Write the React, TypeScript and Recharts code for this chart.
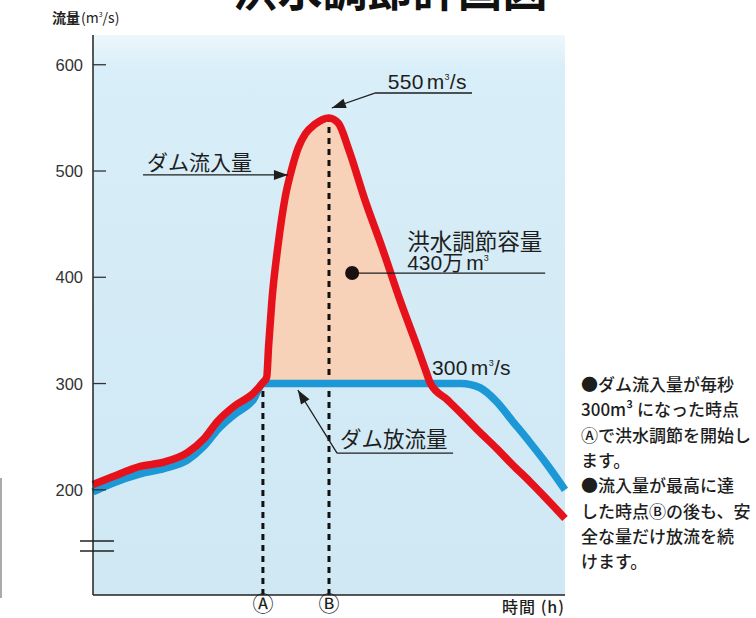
import React from 'react';
import {
  ComposedChart,
  Line,
  Area,
  XAxis,
  YAxis,
  CartesianGrid,
  ReferenceLine,
  ReferenceDot,
} from 'recharts';

// time axis (arbitrary hours) and the two hydrographs, m³/s
const hours = [
  0, 4, 10, 15, 20, 23.5, 26.5, 30, 34, 36,
  36.8, 37.2, 37.9, 39.2, 40.7, 42, 43.5, 45, 47, 50,
  52, 54.2, 57.6, 61.4, 65, 68.9, 70.5, 71.5, 75, 78,
  82, 85.5, 89, 92.5, 96, 100,
];
const inflow = [
  205, 212, 222, 226, 235, 248, 265, 279, 291, 301,
  306, 335, 378, 430, 475, 500, 522, 535, 544, 550,
  545, 520, 473, 426, 379, 332, 312, 300, 285, 272,
  254, 239, 223, 208, 192, 173,
];
const outflow = [
  198, 206, 215, 220, 228, 241, 257, 271, 285, 300,
  300, 300, 300, 300, 300, 300, 300, 300, 300, 300,
  300, 300, 300, 300, 300, 300, 300, 300, 300, 300,
  296, 283, 264, 245, 225, 200,
];

const yTicks = [200, 300, 400, 500, 600];
const controlStart = 36; // Ⓐ
const peakHour = 50; // Ⓑ
const controlEnd = 71.5;
const peakFlow = 550;
const releaseCap = 300;
const markerLabels: Record<number, string> = { 36: 'Ⓐ', 50: 'Ⓑ' };

const rows = hours.map((h, i) => ({
  h,
  inflow: inflow[i],
  outflow: outflow[i],
  storage: h >= controlStart && h <= controlEnd ? [outflow[i], inflow[i]] : null,
}));

const JP = "'Noto Sans CJK JP', 'Noto Sans', sans-serif";
const LAT = "'Liberation Sans', Arial, sans-serif";
const INK = '#1e1e1e';

function head(x1: number, y1: number, x2: number, y2: number, len = 14, half = 5) {
  const dx = x2 - x1;
  const dy = y2 - y1;
  const d = Math.hypot(dx, dy) || 1;
  const ux = dx / d;
  const uy = dy / d;
  const bx = x2 - ux * len;
  const by = y2 - uy * len;
  return `${x2},${y2} ${bx - uy * half},${by + ux * half} ${bx + uy * half},${by - ux * half}`;
}

const Arrow = (p: any) => (
  <g>
    <line x1={p.x1} y1={p.y1} x2={p.x2} y2={p.y2} stroke={INK} strokeWidth={1.3} />
    <polygon points={head(p.x1, p.y1, p.x2, p.y2)} fill={INK} />
  </g>
);

// "NNN m³/s" with a small raised 3
const FlowText = ({ x, y, value }: { x: number; y: number; value: number }) => (
  <text x={x} y={y} fontFamily={LAT} fontSize={21} fill={INK} letterSpacing={0.3}>
    {value}
    <tspan dx={3}>m</tspan>
    <tspan dy={-9} fontSize={9}>3</tspan>
    <tspan dy={9}>/s</tspan>
  </text>
);

const YTick = (props: any) => {
  const { x, y, payload } = props;
  return (
    <g>
      <line x1={x} x2={x + 13} y1={y} y2={y} stroke="#333" strokeWidth={1.3} />
      <text x={x - 10} y={y} dy={6} textAnchor="end" fontFamily={LAT} fontSize={16.5} fill="#333">
        {payload.value}
      </text>
    </g>
  );
};

const notes = [
  '●ダム流入量が毎秒',
  '300m³ になった時点',
  'Ⓐで洪水調節を開始し',
  'ます。',
  '●流入量が最高に達',
  'した時点Ⓑの後も、安',
  '全な量だけ放流を続',
  'けます。',
];

export default function App() {
  return (
    <div style={{ position: 'absolute', left: 0, top: 0, width: 756, height: 618, overflow: 'hidden', background: '#fff' }}>
      <ComposedChart width={756} height={618} data={rows} margin={{ top: 35, right: 191, bottom: 0, left: 0 }}>
        <defs>
          <linearGradient id="sky" x1="0" y1="0" x2="0" y2="1">
            <stop offset="0" stopColor="#eef7fb" />
            <stop offset="0.06" stopColor="#d8eef8" />
            <stop offset="1" stopColor="#cfe8f4" />
          </linearGradient>
        </defs>
        <CartesianGrid horizontal={false} vertical={false} fill="url(#sky)" stroke="none" />
        <XAxis
          type="number"
          dataKey="h"
          domain={[0, 100]}
          ticks={[controlStart, peakHour]}
          tickFormatter={(v: number) => markerLabels[v] ?? ''}
          height={23}
          tickLine={false}
          tickSize={0}
          tickMargin={1}
          axisLine={{ stroke: '#222', strokeWidth: 1.5 }}
          tick={{ fontSize: 21, fill: INK, fontFamily: JP }}
        />
        <YAxis
          type="number"
          domain={[101, 628]}
          ticks={yTicks}
          width={93}
          tickLine={false}
          tickSize={0}
          tickMargin={0}
          tick={<YTick />}
          axisLine={{ stroke: '#222', strokeWidth: 1.5 }}
        />
        {/* flood control storage between inflow and release */}
        <Area
          dataKey="storage"
          type="monotone"
          fill="#f8d1b9"
          fillOpacity={1}
          stroke="none"
          isAnimationActive={false}
        />
        <ReferenceLine
          segment={[{ x: controlStart, y: 101 }, { x: controlStart, y: releaseCap }]}
          stroke="#111"
          strokeWidth={3}
          strokeDasharray="6 5"
        />
        <ReferenceLine
          segment={[{ x: peakHour, y: 101 }, { x: peakHour, y: peakFlow }]}
          stroke="#111"
          strokeWidth={3}
          strokeDasharray="6 5"
        />
        <Line dataKey="outflow" type="monotone" stroke="#1c98d6" strokeWidth={7.5} dot={false} isAnimationActive={false} />
        <Line dataKey="inflow" type="monotone" stroke="#e6121b" strokeWidth={7.5} dot={false} isAnimationActive={false} />

        {/* peak label */}
        <ReferenceLine
          segment={[{ x: 59.7, y: 573.4 }, { x: 80.3, y: 573.4 }]}
          shape={(p: any) => (
            <g>
              <line x1={p.x1} y1={p.y1} x2={p.x2} y2={p.y2} stroke={INK} strokeWidth={1.3} />
              <FlowText x={p.x1 + 13} y={p.y1 - 4} value={peakFlow} />
            </g>
          )}
        />
        <ReferenceLine segment={[{ x: 59.7, y: 573.4 }, { x: 50.6, y: 559.3 }]} shape={Arrow} />

        {/* inflow label */}
        <ReferenceLine
          segment={[{ x: 10.6, y: 496.3 }, { x: 41.3, y: 496.3 }]}
          shape={(p: any) => (
            <g>
              <line x1={p.x1} y1={p.y1} x2={p.x2} y2={p.y2} stroke={INK} strokeWidth={1.3} />
              <polygon points={head(p.x1, p.y1, p.x2, p.y2)} fill={INK} />
              <text x={p.x1 + 4} y={p.y1 - 5} fontFamily={JP} fontSize={21} fill={INK}>
                ダム流入量
              </text>
            </g>
          )}
        />

        {/* storage volume label */}
        <ReferenceLine
          segment={[{ x: 54.9, y: 404 }, { x: 95.8, y: 404 }]}
          shape={(p: any) => (
            <g>
              <line x1={p.x1} y1={p.y1} x2={p.x2} y2={p.y2} stroke={INK} strokeWidth={1.3} />
              <circle cx={p.x1} cy={p.y1} r={7} fill="#1a1010" />
              <text x={p.x1 + 55} y={p.y1 - 23} fontFamily={JP} fontSize={22.5} fill={INK}>
                洪水調節容量
              </text>
              <text x={p.x1 + 55} y={p.y1 - 3} fontFamily={LAT} fontSize={21} fill={INK}>
                430
                <tspan fontFamily={JP}>万</tspan>
                <tspan dx={3}>m</tspan>
                <tspan dy={-9} fontSize={9}>3</tspan>
              </text>
            </g>
          )}
        />

        {/* release cap label */}
        <ReferenceDot
          x={71.8}
          y={308}
          r={0}
          shape={(p: any) => <FlowText x={p.cx} y={p.cy} value={releaseCap} />}
        />

        {/* outflow label */}
        <ReferenceLine
          segment={[{ x: 51.7, y: 234.6 }, { x: 76.3, y: 234.6 }]}
          shape={(p: any) => (
            <g>
              <line x1={p.x1} y1={p.y1} x2={p.x2} y2={p.y2} stroke={INK} strokeWidth={1.3} />
              <text x={p.x1 + 3} y={p.y1 - 6} fontFamily={JP} fontSize={21.5} fill={INK}>
                ダム放流量
              </text>
            </g>
          )}
        />
        <ReferenceLine segment={[{ x: 51.7, y: 234.6 }, { x: 43.4, y: 293.9 }]} shape={Arrow} />
      </ComposedChart>

      <svg width={756} height={618} style={{ position: 'absolute', left: 0, top: 0, pointerEvents: 'none' }}>
        <text x={390} y={7} textAnchor="middle" fontFamily={JP} fontWeight={700} fontSize={45} fill="#111">
          洪水調節計画図
        </text>
        <text x={52} y={23} fontFamily={JP} fontSize={14} fontWeight={700} fill="#222">
          流量
          <tspan fontWeight={400} dx={1}>(m</tspan>
          <tspan fontWeight={400} dy={-6} fontSize={7}>3</tspan>
          <tspan fontWeight={400} dy={6}>/s)</tspan>
        </text>
        {/* axis break */}
        <line x1={80} x2={114} y1={541} y2={541} stroke="#222" strokeWidth={1.5} />
        <line x1={80} x2={114} y1={551} y2={551} stroke="#222" strokeWidth={1.5} />
        <line x1={1} x2={1} y1={478} y2={598} stroke="#aaa" strokeWidth={2} />
        <text x={565} y={613} textAnchor="end" fontFamily={JP} fontSize={16} fontWeight={500} letterSpacing={1} fill={INK}>
          時間 (h)
        </text>
        {notes.map((s, i) => (
          <text key={i} x={581} y={391 + i * 25.3} fontFamily={JP} fontSize={17} fontWeight={500} fill={INK}>
            {s}
          </text>
        ))}
      </svg>
    </div>
  );
}
